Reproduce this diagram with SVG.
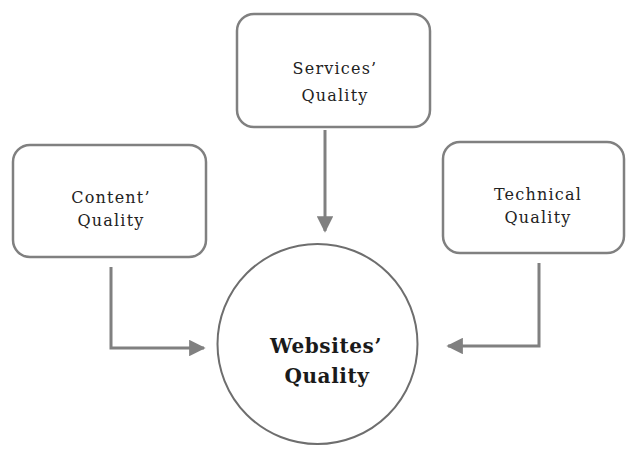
<svg xmlns="http://www.w3.org/2000/svg" width="626" height="454" viewBox="0 0 626 454">
  <style>
    .box { fill: #ffffff; stroke: #808080; stroke-width: 2.5; }
    .hub { fill: #ffffff; stroke: #6e6e6e; stroke-width: 2; }
    .lbl { font-family: "DejaVu Serif", "Liberation Serif", serif; font-size: 16px; fill: #222222; text-anchor: middle; letter-spacing: 1.2px; }
    .hubl { font-family: "DejaVu Serif", "Liberation Serif", serif; font-size: 20px; font-weight: bold; fill: #1a1a1a; text-anchor: middle; letter-spacing: 0.6px; }
    .wire { fill: none; stroke: #808080; stroke-width: 3; }
  </style>
  <defs>
    <marker id="head" viewBox="0 0 10 10" refX="9" refY="5" markerWidth="5.5" markerHeight="5.5" markerUnits="strokeWidth" orient="auto">
      <path d="M0,0 L10,5 L0,10 Z" fill="#808080"/>
    </marker>
  </defs>

  <rect width="626" height="454" fill="#ffffff"/>

  <g id="connectors">
    <path class="wire" d="M111,267 V348 H204" marker-end="url(#head)"/>
    <path class="wire" d="M325,130 V231" marker-end="url(#head)"/>
    <path class="wire" d="M539,263 V346 H448" marker-end="url(#head)"/>
  </g>

  <g id="services">
    <rect class="box" x="237" y="14" width="193" height="113" rx="17"/>
    <text class="lbl" x="335" y="74">Services’</text>
    <text class="lbl" x="335" y="101">Quality</text>
  </g>

  <g id="content">
    <rect class="box" x="13" y="145" width="193" height="112" rx="17"/>
    <text class="lbl" x="111" y="203">Content’</text>
    <text class="lbl" x="111" y="226">Quality</text>
  </g>

  <g id="technical">
    <rect class="box" x="443" y="142" width="181" height="111" rx="17"/>
    <text class="lbl" x="538" y="200">Technical</text>
    <text class="lbl" x="538" y="223">Quality</text>
  </g>

  <g id="websites">
    <circle class="hub" cx="317.5" cy="344" r="100"/>
    <text class="hubl" x="326" y="353">Websites’</text>
    <text class="hubl" x="327" y="383">Quality</text>
  </g>
</svg>
